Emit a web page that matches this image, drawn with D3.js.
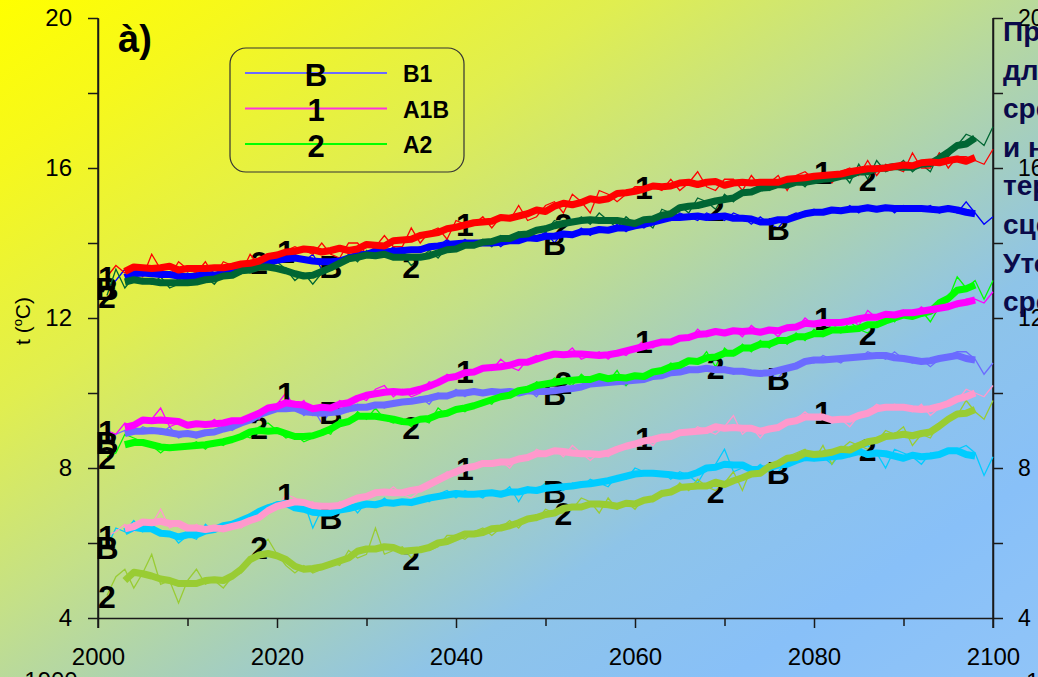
<!DOCTYPE html>
<html>
<head>
<meta charset="utf-8">
<script src="https://cdn.jsdelivr.net/npm/d3@7"></script>
<style>
  html, body { margin: 0; padding: 0; background: #fff; overflow: hidden; }
  svg { display: block; font-family: "Liberation Sans", Arial, sans-serif; }
</style>
</head>
<body>
<svg id="chart" width="1038" height="677"></svg>
<script>
// Annual model values, 2001..2100.
var firstYear = 2001;

// upper group
var b1Top = [12.8,13.0,13.3,13.1,13.2,13.3,13.1,13.2,13.0,13.2, 13.1,13.0,13.3,13.2,13.1,13.3,13.4,13.3,13.6,13.5,
  13.6,13.7,13.5,13.7,13.3,13.4,13.6,13.5,13.8,13.7, 13.8,13.7,13.9,13.7,13.8,13.9,13.8,13.9,14.1,13.9,
  14.1,13.9,14.0,14.1,13.9,14.1,14.0,14.2,14.1,14.3, 14.0,14.3,14.2,14.4,14.2,14.4,14.3,14.5,14.3,14.5,
  14.4,14.6,14.7,14.6,14.8,14.7,14.6,14.8,14.7,14.6, 14.8,14.7,14.5,14.7,14.5,14.4,14.7,14.8,14.7,14.9,
  14.8,14.9,14.8,15.0,14.8,15.0,14.9,15.0,14.8,15.0, 14.9,14.9,15.0,14.8,14.9,14.8,15.1,14.8,14.5,14.7];
var a2Top = [12.6,13.3,12.8,13.1,13.0,12.9,13.1,12.8,12.9,13.0, 12.9,13.1,12.9,13.2,13.1,13.3,13.2,13.5,13.3,13.5,
  13.3,13.0,13.2,12.9,13.2,13.4,13.5,13.7,13.5,13.8, 13.6,13.8,13.6,13.7,13.4,13.6,13.8,13.6,13.9,13.8,
  14.0,13.9,14.1,13.9,14.2,14.1,14.3,14.1,14.4,14.3, 14.6,14.5,14.5,14.7,14.5,14.8,14.6,14.4,14.7,14.5,
  14.6,14.4,14.9,14.8,15.0,14.8,15.2,15.1,14.9,15.3, 15.1,15.4,15.3,15.6,15.4,15.6,15.5,15.7,15.5,15.8,
  15.6,15.7,15.9,15.6,16.1,15.7,16.2,15.9,16.0,16.2, 15.9,16.1,15.9,16.4,16.3,16.6,16.9,16.8,16.6,17.1];
var a1bTop = [13.1,13.4,13.2,13.4,13.1,13.7,13.3,13.1,13.5,13.3, 13.2,13.5,13.1,13.5,13.4,13.2,13.7,13.4,13.6,13.7,
  13.8,13.9,13.8,13.7,14.0,13.7,13.6,14.0,14.0,13.7, 13.9,14.2,13.9,13.9,14.4,14.0,14.3,14.4,14.1,14.6,
  14.5,14.5,14.7,14.4,14.7,14.6,15.0,14.6,14.7,15.0, 15.1,14.8,15.3,15.1,14.8,15.4,15.3,15.1,15.3,15.5,
  15.5,15.5,15.4,15.7,15.4,15.6,15.9,15.5,15.4,15.7, 15.7,15.4,15.8,15.5,15.6,15.8,15.4,15.8,15.9,15.7,
  15.9,15.6,15.9,16.0,15.8,16.2,15.8,16.1,16.0,15.9, 16.4,16.0,16.0,16.4,16.0,16.3,16.3,16.2,16.1,16.5];

// middle group
var b1Mid = [8.7,8.9,9.0,8.9,9.1,9.0,8.9,9.1,8.8,8.9, 8.8,9.0,8.9,9.1,9.0,9.2,9.3,9.4,9.5,9.7,
  9.6,9.7,9.4,9.6,9.2,9.5,9.6,9.5,9.7,9.6, 9.7,9.6,9.8,9.7,9.8,9.9,9.7,10.0,9.9,10.1,
  9.9,10.1,10.0,10.1,9.9,10.1,10.0,10.1,9.9,10.2, 10.0,10.0,10.2,10.1,10.3,10.2,10.4,10.3,10.2,10.4,
  10.3,10.5,10.4,10.6,10.5,10.7,10.6,10.7,10.6,10.7, 10.5,10.6,10.5,10.6,10.5,10.4,10.7,10.8,10.9,10.8,
  11.0,10.9,10.8,11.0,10.9,11.1,11.0,10.9,11.1,10.9, 10.8,10.9,10.7,10.9,11.0,11.1,11.1,10.9,10.5,10.8];
var a2Mid = [8.3,8.4,8.9,8.8,8.7,8.6,8.4,8.6,8.5,8.6, 8.7,8.5,8.7,8.6,8.8,8.9,8.8,9.1,9.2,9.0,
  8.8,8.9,8.7,8.8,9.0,8.9,9.3,9.2,9.5,9.3, 9.6,9.3,9.2,9.3,9.1,9.3,9.2,9.6,9.4,9.6,
  9.5,9.7,9.8,9.7,10.0,9.9,10.1,10.0,10.3,10.2, 10.4,10.3,10.2,10.5,10.3,10.5,10.3,10.6,10.2,10.5,
  10.4,10.6,10.5,10.8,10.7,10.9,10.8,11.1,10.7,11.2, 11.0,11.3,11.1,11.4,11.2,11.5,11.3,11.6,11.4,11.7,
  11.5,11.7,11.6,11.9,11.7,11.6,11.8,12.1,11.9,12.2, 12.0,12.2,11.9,12.3,12.5,13.1,12.8,13.0,12.5,13.0];
var a1bMid = [9.0,8.9,9.2,9.1,9.2,9.3,9.6,9.1,9.2,9.1, 9.2,9.1,9.3,9.1,9.2,9.3,9.4,9.3,9.6,9.7,
  10.0,9.6,9.8,9.4,9.6,9.5,9.8,9.7,9.9,9.8, 10.1,10.2,9.9,10.1,9.9,10.0,10.3,10.2,10.5,10.4,
  10.6,10.5,10.7,10.6,10.9,10.7,10.6,10.9,11.0,10.9, 11.1,11.0,11.2,10.9,11.0,11.1,10.9,11.1,11.0,11.2,
  11.4,11.2,11.4,11.3,11.5,11.4,11.7,11.5,11.7,11.6, 11.7,11.5,11.8,11.6,11.7,11.5,11.8,11.7,12.0,11.8,
  12.0,11.7,11.9,12.0,11.8,12.2,12.0,12.1,12.0,12.2, 12.1,12.3,12.1,12.2,12.4,12.3,12.5,12.5,12.4,12.7];

// lower group
var b1Low = [5.9,6.4,6.3,6.6,6.3,6.5,6.2,6.3,6.0,6.2, 6.1,6.5,6.3,6.5,6.4,6.6,6.7,6.8,7.0,7.1,
  7.1,7.0,7.1,6.4,6.9,6.7,6.9,7.1,6.8,7.1, 7.0,7.2,7.0,7.1,7.0,7.2,7.1,7.3,7.4,7.2,
  7.4,7.3,7.2,7.4,7.3,7.5,7.1,7.5,7.4,7.6, 7.4,7.4,7.6,7.5,7.7,7.6,7.5,7.8,7.7,8.0,
  7.9,7.8,7.9,7.7,7.9,7.8,7.6,8.0,8.1,8.5, 7.9,8.0,7.9,8.1,7.9,7.9,8.2,8.3,8.2,8.4,
  8.3,8.1,8.4,8.3,8.5,8.6,8.4,8.0,8.5,8.4, 8.3,8.1,8.4,8.3,8.5,8.5,8.6,8.4,7.8,8.3];
var a2Low = [4.6,5.1,5.3,4.8,5.2,5.7,4.9,5.0,4.4,5.0, 5.3,4.9,5.0,4.8,5.1,5.2,5.5,5.9,6.1,5.7,
  5.4,5.2,5.4,5.2,5.3,5.5,5.4,5.8,5.6,5.7, 6.4,5.7,5.8,5.9,5.6,5.9,5.8,5.9,6.2,6.2,
  6.1,6.3,6.4,6.2,6.4,6.6,6.4,6.7,6.6,6.9, 6.8,6.8,6.9,7.2,7.1,6.8,7.2,6.9,7.1,6.9,
  7.2,7.1,7.4,7.3,7.6,7.4,7.7,7.5,7.4,7.6, 7.9,7.4,8.0,7.8,8.1,8.0,8.3,8.4,8.5,8.2,
  8.6,8.1,8.5,8.7,8.6,8.5,8.7,9.0,8.9,9.1, 8.6,8.9,8.8,9.2,9.3,9.4,9.8,9.5,9.3,9.8];
var a1bLow = [6.2,6.3,6.5,6.3,6.6,6.5,6.9,6.4,6.5,6.3, 6.5,6.3,6.4,6.3,6.5,6.4,6.6,6.7,6.8,6.9,
  7.3,7.2,7.0,7.1,6.8,6.9,7.1,7.0,7.2,7.3, 7.4,7.3,7.5,7.3,7.2,7.4,7.6,7.7,7.9,7.8,
  8.0,8.1,8.2,8.1,8.2,8.0,8.3,8.2,8.5,8.4, 8.5,8.3,8.6,8.4,8.2,8.4,8.3,8.5,8.6,8.7,
  8.8,8.6,8.9,8.8,9.0,8.9,9.1,9.0,8.9,9.1, 9.4,8.9,9.1,8.8,9.1,9.0,9.2,9.3,9.5,9.3,
  9.5,9.2,9.3,9.1,9.4,9.5,9.7,9.6,9.7,9.6, 9.5,9.7,9.4,9.6,9.7,9.8,10.1,10.0,9.9,10.2];

// years carrying a scenario symbol
var marksB = [2001, 2026, 2051, 2076];
var marks1 = [2001, 2021, 2041, 2061, 2081];
var marks2 = [2001, 2018, 2035, 2052, 2069, 2086];

// axis ticks
var xMajor = [2000, 2020, 2040, 2060, 2080, 2100];
var xMinor = [2010, 2030, 2050, 2070, 2090];
var yMajor = [4, 8, 12, 16, 20];
var yMinor = [6, 10, 14, 18];

// legend entries
var legendSymbols = ['B', '1', '2'];
var legendNames = ['B1', 'A1B', 'A2'];

// text block at the right edge (clipped by the frame)
var sideLines = ['Прогноз', 'для', 'средней', 'и на', 'территории', 'сценариев', 'Уточнение', 'средних'];

// Series table built from the arrays above (drawing order: B, 2, 1 in each group)
var series = [
  { values: b1Top,  symbol: 'B', marks: marksB, color: '#0000ff' },
  { values: a2Top,  symbol: '2', marks: marks2, color: '#006633' },
  { values: a1bTop, symbol: '1', marks: marks1, color: '#ff0000' },
  { values: b1Mid,  symbol: 'B', marks: marksB, color: '#6b6bff' },
  { values: a2Mid,  symbol: '2', marks: marks2, color: '#00ff00' },
  { values: a1bMid, symbol: '1', marks: marks1, color: '#ff00ff' },
  { values: b1Low,  symbol: 'B', marks: marksB, color: '#00ccff' },
  { values: a2Low,  symbol: '2', marks: marks2, color: '#99cc33' },
  { values: a1bLow, symbol: '1', marks: marks1, color: '#ff99cc' }
];
var legendColors = ['#6b6bff', '#ff33dd', '#00ff00'];

var svg = d3.select('#chart');
var W = 1038, H = 677;

// Background gradient, yellow top-left to light blue bottom-right
var defs = svg.append('defs');
var grad = defs.append('linearGradient')
  .attr('id', 'bg')
  .attr('gradientUnits', 'userSpaceOnUse')
  .attr('x1', 0).attr('y1', 0).attr('x2', 625).attr('y2', 949);
[[0, '#ffff00'], [0.12, '#f6f81c'], [0.3, '#e0ee50'], [0.45, '#c4e088'],
 [0.58, '#a8d0b8'], [0.7, '#8ec4e8'], [0.85, '#88c0f8'], [1, '#90c4f8']]
  .forEach(s => grad.append('stop').attr('offset', s[0]).attr('stop-color', s[1]));
svg.append('rect').attr('width', W).attr('height', H).attr('fill', 'url(#bg)');

// Scales
var x = d3.scaleLinear().domain([2000, 2100]).range([98, 993]);
var y = d3.scaleLinear().domain([4, 20]).range([618, 18]);

// 5-year centred running mean for the bold curves
var smooth = function (values) {
  let out = [];
  for (let i = 2; i < values.length - 2; i++) {
    out.push({ year: firstYear + i, value: d3.mean(values.slice(i - 2, i + 3)) });
  }
  return out;
};
var annual = function (values) {
  return values.map((v, i) => ({ year: firstYear + i, value: v }));
};

var line = d3.line().x(d => x(d.year)).y(d => y(d.value));

// Axes
var axisColor = '#1a1a1a';
var styleAxis = function (g, size) {
  g.selectAll('path, line').attr('stroke', axisColor).attr('stroke-width', 1.5);
  g.selectAll('text').attr('font-size', size).attr('fill', '#000')
    .attr('font-family', '"Liberation Sans", Arial, sans-serif');
};

var gx = svg.append('g').attr('transform', `translate(0,${y(4)})`);
gx.append('g').call(d3.axisBottom(x).tickValues(xMinor).tickSize(8).tickFormat('').tickSizeOuter(0))
  .call(g => g.select('.domain').remove());
gx.append('g').call(d3.axisBottom(x).tickValues(xMajor).tickSize(10).tickPadding(20)
  .tickFormat(d3.format('d')).tickSizeOuter(0));
styleAxis(gx, 24);

var gyL = svg.append('g').attr('transform', `translate(${x(2000)},0)`);
gyL.append('g').call(d3.axisLeft(y).tickValues(yMinor).tickSize(10).tickFormat('').tickSizeOuter(0))
  .call(g => g.select('.domain').remove());
gyL.append('g').call(d3.axisLeft(y).tickValues(yMajor).tickSize(10).tickPadding(16).tickSizeOuter(0));
styleAxis(gyL, 24);

var gyR = svg.append('g').attr('transform', `translate(${x(2100)},0)`);
gyR.append('g').call(d3.axisRight(y).tickValues(yMinor).tickSize(10).tickFormat('').tickSizeOuter(0))
  .call(g => g.select('.domain').remove());
gyR.append('g').call(d3.axisRight(y).tickValues(yMajor).tickSize(10).tickPadding(15).tickSizeOuter(0));
styleAxis(gyR, 23);

// extend both vertical axis lines down to the bottom tick length
svg.append('line').attr('x1', x(2000)).attr('x2', x(2000)).attr('y1', y(20)).attr('y2', y(4) + 10)
  .attr('stroke', axisColor).attr('stroke-width', 1.5);
svg.append('line').attr('x1', x(2100)).attr('x2', x(2100)).attr('y1', y(20)).attr('y2', y(4) + 10)
  .attr('stroke', axisColor).attr('stroke-width', 1.5);

// Thin annual lines with their symbols
var plot = svg.append('g');
series.forEach(s => {
  plot.append('path')
    .datum(annual(s.values))
    .attr('d', line)
    .attr('fill', 'none')
    .attr('stroke', s.color)
    .attr('stroke-width', 1.3)
    .attr('stroke-linejoin', 'miter');

  plot.selectAll(null)
    .data(s.marks)
    .enter().append('text')
    .attr('x', d => x(d))
    .attr('y', d => y(s.values[d - firstYear]) + 1)
    .attr('text-anchor', 'middle')
    .attr('dominant-baseline', 'central')
    .attr('font-size', 32)
    .attr('font-weight', 'bold')
    .attr('fill', '#000')
    .text(s.symbol);
});

// Bold smoothed curves on top
series.forEach(s => {
  plot.append('path')
    .datum(smooth(s.values))
    .attr('d', line)
    .attr('fill', 'none')
    .attr('stroke', s.color)
    .attr('stroke-width', 7)
    .attr('stroke-linejoin', 'round');
});

// Panel label
svg.append('text').attr('x', 118).attr('y', 52)
  .attr('font-size', 38).attr('font-weight', 'bold').attr('fill', '#000')
  .text('à)');

// Y axis title
var yt = svg.append('text')
  .attr('transform', 'translate(30,321) rotate(-90)')
  .attr('text-anchor', 'middle')
  .attr('font-size', 21).attr('fill', '#000');
yt.append('tspan').text('t (');
yt.append('tspan').attr('font-size', 13).attr('dy', -8).text('o');
yt.append('tspan').attr('dy', 8).text('C)');

// Legend
var lg = svg.append('g');
lg.append('rect')
  .attr('x', 230).attr('y', 48).attr('width', 234).attr('height', 124)
  .attr('rx', 16).attr('ry', 16)
  .attr('fill', 'none').attr('stroke', '#333').attr('stroke-width', 1.2);
var legendY = d3.scalePoint().domain(legendNames).range([73, 144]);
legendNames.forEach((name, i) => {
  let ly = legendY(name);
  lg.append('line').attr('x1', 245).attr('x2', 387).attr('y1', ly).attr('y2', ly)
    .attr('stroke', legendColors[i]).attr('stroke-width', 2);
  lg.append('text').attr('x', 316).attr('y', ly + 2)
    .attr('text-anchor', 'middle').attr('dominant-baseline', 'central')
    .attr('font-size', 31).attr('font-weight', 'bold').attr('fill', '#000')
    .text(legendSymbols[i]);
  lg.append('text').attr('x', 403).attr('y', ly + 9)
    .attr('font-size', 23).attr('font-weight', 'bold').attr('fill', '#000')
    .text(name);
});

// Right-hand caption, cut by the frame edge
var side = svg.append('g');
sideLines.forEach((t, i) => {
  side.append('text')
    .attr('x', 1003).attr('y', 41 + i * 38.6)
    .attr('font-size', 28).attr('font-weight', 'bold').attr('fill', '#0a0a4a')
    .text(t);
});

// Pieces of the next panel peeking in at the bottom
svg.append('text').attr('x', 51).attr('y', 689).attr('text-anchor', 'middle')
  .attr('font-size', 24).attr('fill', '#000').text('1900');
svg.append('text').attr('x', 1026).attr('y', 690)
  .attr('font-size', 24).attr('fill', '#000').text('1');
</script>
</body>
</html>
